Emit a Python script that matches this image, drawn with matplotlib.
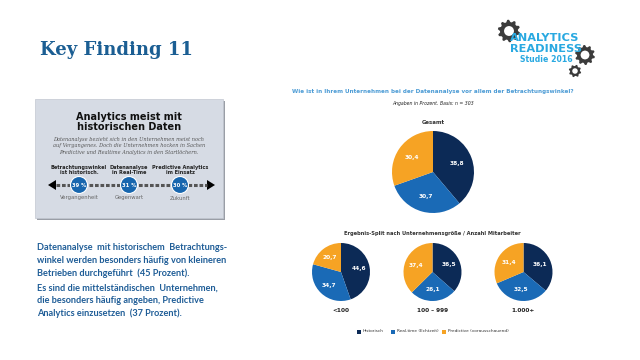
import numpy as np
import matplotlib
matplotlib.use("Agg")
import matplotlib.pyplot as plt
from matplotlib.patches import Rectangle, Circle, Polygon

# ---------------- data ----------------
series = ["Historisch", "Real-time (Echtzeit)", "Predictive (vorausschauend)"]
gesamt = [38.8, 30.7, 30.4]
groups = ["<100", "100 – 999", "1.000+"]
group_values = [
    [44.6, 34.7, 20.7],
    [36.5, 26.1, 37.4],
    [36.1, 32.5, 31.4],
]
timeline_values = ["39 %", "31 %", "30 %"]
timeline_top = ["Betrachtungswinkel\nist historisch.", "Datenanalyse\nin Real-Time", "Predictive Analytics\nim Einsatz"]
timeline_bottom = ["Vergangenheit", "Gegenwart", "Zukunft"]

colors = ["#0c2a56", "#1a6ab6", "#f6a324"]
W, H = 640, 360

fig = plt.figure(figsize=(6.4, 3.6), dpi=100)
bg = fig.add_axes([0, 0, 1, 1])
bg.set_xlim(0, W)
bg.set_ylim(H, 0)
bg.axis("off")

# title
bg.text(40, 55, "Key Finding 11", fontsize=13, fontweight="bold", family="DejaVu Serif",
        color="#1b5e93", va="baseline", ha="left")

# logo
def gear(cx, cy, r, teeth, color):
    n = teeth * 4
    ang = np.linspace(0, 2 * np.pi, n, endpoint=False)
    rad = np.array([r * 1.25 if (i % 4) in (1, 2) else r for i in range(n)])
    pts = np.c_[cx + rad * np.cos(ang), cy + rad * np.sin(ang)]
    bg.add_patch(Polygon(pts, closed=True, facecolor=color, edgecolor="none"))
    bg.add_patch(Circle((cx, cy), r * 0.55, facecolor="white", edgecolor="none"))

gear(509, 31, 9, 10, "#3b3b3b")
gear(585, 55, 8, 10, "#3b3b3b")
gear(575, 71, 5, 8, "#3b3b3b")
logo_c = "#29a9e1"
bg.text(545, 38, "ANALYTICS", fontsize=8.2, fontweight="bold", color=logo_c, ha="center", va="center",
        family="DejaVu Sans")
bg.text(546, 48.5, "READINESS", fontsize=8.2, fontweight="bold", color=logo_c, ha="center", va="center",
        family="DejaVu Sans")
bg.text(546, 59, "Studie 2016", fontsize=5.6, fontweight="bold", color=logo_c, ha="center", va="center",
        family="DejaVu Sans")

# info box
bg.add_patch(Rectangle((37, 101), 188, 119, facecolor="#9a9ea6", edgecolor="none"))
bg.add_patch(Rectangle((35, 99), 188, 119, facecolor="#d6dbe4", edgecolor="#c2c7d0", lw=0.5))
bg.text(129, 122, "Analytics meist mit\nhistorischen Daten", fontsize=7, fontweight="bold",
        color="#111111", ha="center", va="center", linespacing=1.0)
bg.text(129, 146, "Datenanalyse bezieht sich in den Unternehmen meist noch\n"
        "auf Vergangenes. Doch die Unternehmen hocken in Sachen\n"
        "Predictive und Realtime Analytics in den Startlöchern.",
        fontsize=3.6, style="italic", family="DejaVu Serif", color="#555555",
        ha="center", va="center", linespacing=1.3)
xs = [79, 129, 180]
bg.plot([56, 207], [185, 185], color="#555555", lw=2.2, ls=(0, (1.2, 0.6)), zorder=2)
bg.add_patch(Polygon([[48, 185], [56, 180], [56, 190]], facecolor="black"))
bg.add_patch(Polygon([[215, 185], [207, 180], [207, 190]], facecolor="black"))
for x, v, t, b in zip(xs, timeline_values, timeline_top, timeline_bottom):
    bg.text(x, 170, t, fontsize=3.6, fontweight="bold", color="#222222", ha="center", va="center",
            linespacing=1.1)
    bg.add_patch(Circle((x, 185), 8.5, facecolor="#1766ae", edgecolor="white", lw=0.8, zorder=3))
    bg.text(x, 185.5, v, fontsize=3.8, fontweight="bold", color="white", ha="center", va="center",
            zorder=4)
    bg.text(x, 198, b, fontsize=3.8, color="#666666", ha="center", va="center")

# left text
txt_c = "#1f5d97"
lines1 = ["Datenanalyse  mit historischem  Betrachtungs-",
          "winkel werden besonders häufig von kleineren",
          "Betrieben durchgeführt  (45 Prozent)."]
lines2 = ["Es sind die mittelständischen  Unternehmen,",
          "die besonders häufig angeben, Predictive",
          "Analytics einzusetzen  (37 Prozent)."]
for i, l in enumerate(lines1):
    bg.text(37, 248 + i * 12.5, l, fontsize=6.6, fontweight="bold", color=txt_c, family="Lato",
            ha="left", va="center")
for i, l in enumerate(lines2):
    bg.text(37, 288 + i * 12.5, l, fontsize=6.6, fontweight="bold", color=txt_c, family="Lato",
            ha="left", va="center")

# chart texts
bg.text(433, 92, "Wie ist in Ihrem Unternehmen bei der Datenanalyse vor allem der Betrachtungswinkel?",
        fontsize=4.1, fontweight="bold", color="#4b9bd5", ha="center", va="center")
bg.text(433, 103, "Angaben in Prozent. Basis: n = 303", fontsize=3.3, style="italic",
        color="#222222", ha="center", va="center")
bg.text(433, 122, "Gesamt", fontsize=3.9, fontweight="bold", color="#333333", ha="center", va="center")
bg.text(432, 233, "Ergebnis-Split nach Unternehmensgröße / Anzahl Mitarbeiter", fontsize=3.7,
        fontweight="bold", color="#333333", ha="center", va="center")


def draw_pie(cx, cy, r, vals, fs):
    ax = fig.add_axes([(cx - r) / W, 1 - (cy + r) / H, 2 * r / W, 2 * r / H])
    ax.pie(vals, colors=colors, startangle=90, counterclock=False,
           labels=[f"{v:.1f}".replace(".", ",") for v in vals], labeldistance=0.62,
           textprops=dict(color="white", fontsize=fs, fontweight="bold", ha="center", va="center"),
           wedgeprops=dict(linewidth=0))
    ax.set_aspect("equal")
    ax.set_xlim(-1, 1)
    ax.set_ylim(-1, 1)
    ax.axis("off")


draw_pie(433, 172, 41, gesamt, 4.2)
for cx, g, vals in zip([341, 432.5, 523.5], groups, group_values):
    draw_pie(cx, 272, 29, vals, 4.2)
    bg.text(cx, 310, g, fontsize=4.2, fontweight="bold", color="#222222", ha="center", va="center")

# legend
lx = [357, 391, 442]
for x, s, c in zip(lx, series, colors):
    bg.add_patch(Rectangle((x, 329.5), 4, 4, facecolor=c, edgecolor="none"))
    bg.text(x + 6, 331.5, s, fontsize=3.1, color="#333333", ha="left", va="center")

fig.savefig("out.png", dpi=100)
